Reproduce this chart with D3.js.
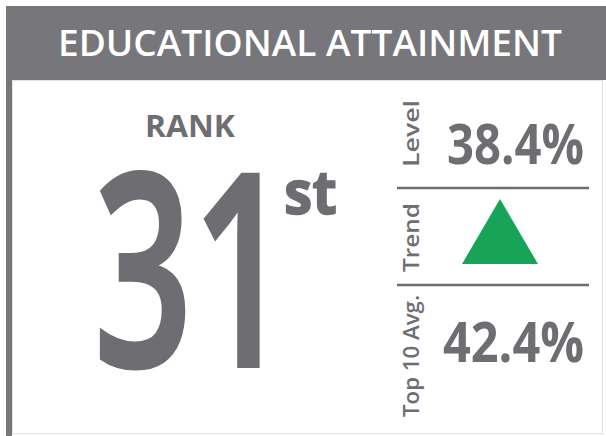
<!DOCTYPE html>
<html>
<head>
<meta charset="utf-8">
<script src="https://cdn.jsdelivr.net/npm/d3@7"></script>
<style>
  html, body { margin: 0; padding: 0; background: #ffffff; }
  svg { display: block; }
  text { font-family: "Open Sans", "Noto Sans", sans-serif; }
</style>
</head>
<body>
<svg id="chart" width="606" height="436"></svg>
<script>
// ---- data ----
const title = "EDUCATIONAL ATTAINMENT";
const rankLabel = "RANK";
const rankValue = 31;
const rankSuffix = "st";
const metricLabels = ["Level", "Trend", "Top 10 Avg."];
const metricValues = [38.4, null, 42.4];
const trendDirection = ["", "up", ""];

// ---- styles ----
const gray = "#6e6e72";
const headerGray = "#77767b";
const green = "#18a458";

const svg = d3.select("#chart");

// header band and frame
svg.append("rect").attr("x", 6).attr("y", 6).attr("width", 600).attr("height", 74).attr("fill", headerGray);
svg.append("rect").attr("x", 6).attr("y", 80).attr("width", 6).attr("height", 356).attr("fill", headerGray);
svg.append("rect").attr("x", 12.5).attr("y", 80.5).attr("width", 590).attr("height", 353)
  .attr("fill", "none").attr("stroke", "#e2e2e2").attr("stroke-width", 1);

svg.append("text")
  .attr("x", 58).attr("y", 55.5)
  .attr("fill", "#ffffff")
  .attr("font-size", 36).attr("font-weight", 600)
  .attr("textLength", 504).attr("lengthAdjust", "spacingAndGlyphs")
  .text(title);

// rank block
svg.append("text")
  .attr("x", 145).attr("y", 137)
  .attr("fill", gray).attr("font-size", 30).attr("font-weight", 700)
  .attr("textLength", 90).attr("lengthAdjust", "spacingAndGlyphs")
  .text(rankLabel);

svg.append("text")
  .attr("x", 94).attr("y", 366)
  .attr("fill", gray).attr("stroke", gray).attr("stroke-width", 4)
  .attr("font-size", 268).attr("font-weight", 600)
  .attr("textLength", 197).attr("lengthAdjust", "spacingAndGlyphs")
  .text(String(rankValue));

svg.append("text")
  .attr("x", 284).attr("y", 214)
  .attr("fill", gray).attr("stroke", gray).attr("stroke-width", 1.5)
  .attr("font-size", 60).attr("font-weight", 700)
  .attr("textLength", 53).attr("lengthAdjust", "spacingAndGlyphs")
  .text(rankSuffix);

// metrics panel
const rowCenter = d3.scaleOrdinal().domain(metricLabels).range([133.5, 237.5, 356]);
const labelLen = d3.scaleOrdinal().domain(metricLabels).range([67, 69, 122]);
const valueBase = d3.scaleOrdinal().domain(metricLabels).range([164, 0, 362]);
const fmt = d3.format(".1f");

metricLabels.forEach((lab, i) => {
  svg.append("text")
    .attr("transform", `translate(419,${rowCenter(lab)}) rotate(-90)`)
    .attr("text-anchor", "middle")
    .attr("fill", gray).attr("font-size", 22).attr("font-weight", 600)
    .attr("textLength", labelLen(lab)).attr("lengthAdjust", "spacingAndGlyphs")
    .text(lab);

  if (metricValues[i] !== null) {
    const w = i === 0 ? 137 : 141;
    svg.append("text")
      .attr("x", 584 - w).attr("y", valueBase(lab))
      .attr("fill", gray).attr("font-size", 56).attr("font-weight", 700)
      .attr("textLength", w).attr("lengthAdjust", "spacingAndGlyphs")
      .text(fmt(metricValues[i]) + "%");
  } else if (trendDirection[i] === "up") {
    const cx = 500, top = 199, bot = 264, half = 38;
    svg.append("path")
      .attr("d", d3.line()([[cx, top], [cx + half, bot], [cx - half, bot]]) + "Z")
      .attr("fill", green);
  }
});

// separators
[188, 285].forEach(y => {
  svg.append("line")
    .attr("x1", 397).attr("x2", 589).attr("y1", y).attr("y2", y)
    .attr("stroke", gray).attr("stroke-width", 2.5);
});
</script>
</body>
</html>
